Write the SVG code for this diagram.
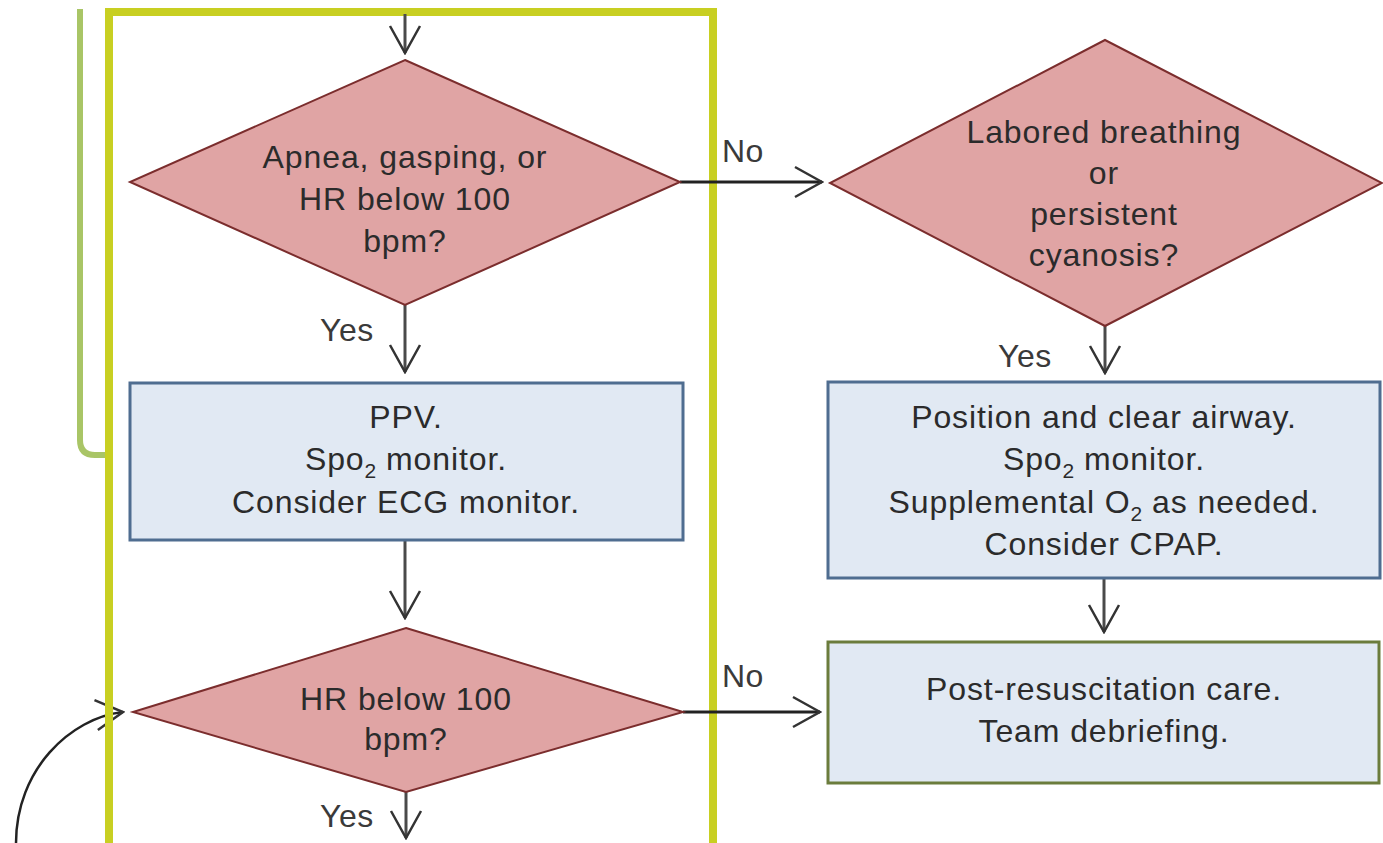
<svg xmlns="http://www.w3.org/2000/svg" width="1383" height="843" viewBox="0 0 1383 843">
<style>
text{font-family:"Liberation Sans",Arial,sans-serif;font-size:32px;letter-spacing:0.9px;fill:#2b2b2b;text-anchor:middle}
.lbl{fill:#3a3a3a;text-anchor:start;letter-spacing:0.5px}
.dia{fill:#e0a4a4;stroke:#7b2d2d;stroke-width:2}
.box{fill:#e1e9f3;stroke:#4f6d90;stroke-width:3}
.boxg{fill:#e1e9f3;stroke:#6b7c3c;stroke-width:3}
.v{stroke:#4a4a4a;stroke-width:3;fill:none;marker-end:url(#ah)}
.h{stroke:#222;stroke-width:3;fill:none;marker-end:url(#ah)}
.sub{font-size:21px;letter-spacing:0}
</style>
<defs>
<marker id="ah" viewBox="-30 -18 32 36" markerWidth="32" markerHeight="36" refX="0" refY="0" markerUnits="userSpaceOnUse" orient="auto">
<path d="M-27,-15 L0,0 L-27,15" fill="none" stroke="#333" stroke-width="2.5"/>
</marker>
</defs>
<rect width="1383" height="843" fill="#fff"/>
<g id="loops">
<path d="M16,843 C16,770 70,718 123,712" fill="none" stroke="#222" stroke-width="2.5" marker-end="url(#ah)"/>
<path d="M80,9 V440 Q80,455 95,455 H109" fill="none" stroke="#a9c566" stroke-width="6"/>
<rect x="109" y="12" width="604" height="900" fill="none" stroke="#c8cf22" stroke-width="8"/>
</g>
<g id="connectors">
<line x1="405" y1="14" x2="405" y2="53" class="v"/>
<line x1="680" y1="182" x2="822" y2="182" class="h"/>
<line x1="405" y1="305" x2="405" y2="372" class="v"/>
<line x1="1105" y1="326" x2="1105" y2="373" class="v"/>
<line x1="405" y1="541" x2="405" y2="618" class="v"/>
<line x1="1104" y1="579" x2="1104" y2="632" class="v"/>
<line x1="683" y1="712" x2="820" y2="712" class="h"/>
<line x1="406" y1="792" x2="406" y2="838" class="v"/>
<text class="lbl" x="722" y="162">No</text>
<text class="lbl" x="320" y="341">Yes</text>
<text class="lbl" x="998" y="367">Yes</text>
<text class="lbl" x="722" y="687">No</text>
<text class="lbl" x="320" y="827">Yes</text>
</g>
<g id="d1">
<polygon class="dia" points="405,60 680,182 405,305 130,182"/>
<text x="405" y="168">Apnea, gasping, or</text>
<text x="405" y="210">HR below 100</text>
<text x="405" y="252">bpm?</text>
</g>
<g id="d2">
<polygon class="dia" points="1105,40 1382,183 1105,326 830,183"/>
<text x="1104" y="143">Labored breathing</text>
<text x="1104" y="184">or</text>
<text x="1104" y="225">persistent</text>
<text x="1104" y="266">cyanosis?</text>
</g>
<g id="b1">
<rect class="box" x="130" y="383" width="553" height="157"/>
<text x="406" y="428">PPV.</text>
<text x="406" y="470">Spo<tspan class="sub" dy="8">2</tspan><tspan dy="-8"> monitor.</tspan></text>
<text x="406" y="513">Consider ECG monitor.</text>
</g>
<g id="b2">
<rect class="box" x="828" y="382" width="552" height="196"/>
<text x="1104" y="428">Position and clear airway.</text>
<text x="1104" y="470">Spo<tspan class="sub" dy="8">2</tspan><tspan dy="-8"> monitor.</tspan></text>
<text x="1104" y="513">Supplemental O<tspan class="sub" dy="8">2</tspan><tspan dy="-8"> as needed.</tspan></text>
<text x="1104" y="555">Consider CPAP.</text>
</g>
<g id="d3">
<polygon class="dia" points="406,628 683,712 406,792 133,712"/>
<text x="406" y="710">HR below 100</text>
<text x="406" y="750">bpm?</text>
</g>
<g id="b3">
<rect class="boxg" x="828" y="642" width="551" height="141"/>
<text x="1104" y="700">Post-resuscitation care.</text>
<text x="1104" y="742">Team debriefing.</text>
</g>
</svg>
